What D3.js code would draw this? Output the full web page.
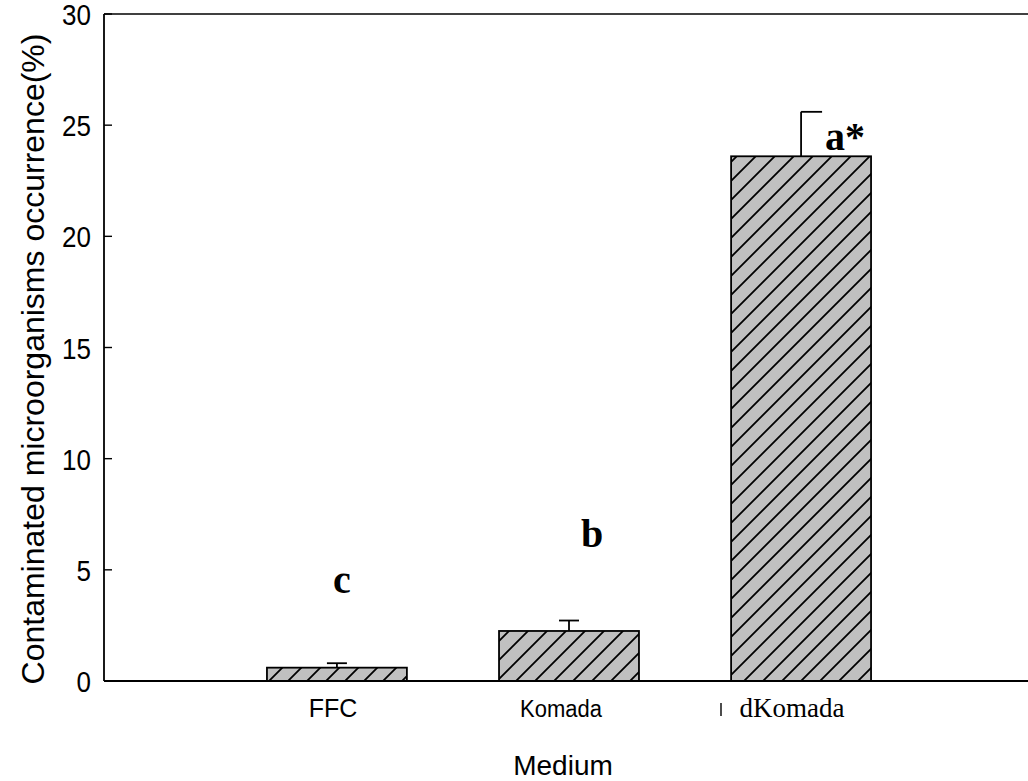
<!DOCTYPE html>
<html>
<head>
<meta charset="utf-8">
<script src="https://cdn.jsdelivr.net/npm/d3@7"></script>
<style>
  html, body { margin: 0; padding: 0; background: #fff; }
  svg { display: block; }
</style>
</head>
<body>
<svg id="chart" width="1028" height="781"></svg>
<script>
// ---- data ----
const categories = ["FFC", "Komada", "dKomada"];
const values = [0.6, 2.25, 23.6];
const errors = [0.2, 0.47, 2.0];
const letters = ["c", "b", "a*"];
const letterValues = [3.96, 6.03, 23.9];
const yTicks = [0, 5, 10, 15, 20, 25, 30];
const yTitle = "Contaminated microorganisms occurrence(%)";
const xTitle = "Medium";

// ---- layout ----
const mLeft = 104, mRight = 1028, mTop = 14, mBottom = 681;
const svg = d3.select("#chart");

const y = d3.scaleLinear().domain([0, 30]).range([mBottom, mTop]);
const x = d3.scaleBand().domain(categories).range([221, 917]).paddingInner(0.397).paddingOuter(0.198);

// hatch pattern
const defs = svg.append("defs");
const pat = defs.append("pattern")
  .attr("id", "hatch").attr("patternUnits", "userSpaceOnUse")
  .attr("width", 19).attr("height", 19);
pat.append("rect").attr("width", 19).attr("height", 19).attr("fill", "#c0c0c0");
pat.append("path").attr("d", "M-5,24 L24,-5 M-5,5 L5,-5 M14,24 L24,14")
  .attr("stroke", "#000").attr("stroke-width", 1.8);

// bars
svg.append("g").selectAll("rect").data(categories).join("rect")
  .attr("x", d => x(d))
  .attr("y", (d, i) => y(values[i]))
  .attr("width", x.bandwidth())
  .attr("height", (d, i) => y(0) - y(values[i]))
  .attr("fill", "url(#hatch)")
  .attr("stroke", "#000").attr("stroke-width", 1.8);

// error bars (upper only)
const eg = svg.append("g").attr("stroke", "#000").attr("stroke-width", 1.8).attr("fill", "none");
categories.forEach((c, i) => {
  const cx = x(c) + x.bandwidth() / 2;
  eg.append("line").attr("x1", cx).attr("x2", cx)
    .attr("y1", y(values[i])).attr("y2", y(values[i] + errors[i]));
  const capL = i === 2 ? cx : cx - 10;
  const capR = i === 2 ? cx + 21 : cx + 10;
  eg.append("line").attr("x1", capL).attr("x2", capR)
    .attr("y1", y(values[i] + errors[i])).attr("y2", y(values[i] + errors[i]));
});

// significance letters
const letterOffsets = [5, 23, 44];
svg.append("g").selectAll("text").data(letters).join("text")
  .attr("x", (d, i) => x(categories[i]) + x.bandwidth() / 2 + letterOffsets[i])
  .attr("y", (d, i) => y(letterValues[i]))
  .attr("text-anchor", "middle")
  .attr("font-family", "'Liberation Serif', 'Times New Roman', serif")
  .attr("font-weight", "bold")
  .attr("font-size", 40)
  .text(d => d);

// frame / axes
const ax = svg.append("g").attr("stroke", "#000").attr("fill", "none");
ax.append("line").attr("x1", mLeft).attr("x2", mRight).attr("y1", mTop).attr("y2", mTop).attr("stroke-width", 1.6);
ax.append("line").attr("x1", mLeft).attr("x2", mRight).attr("y1", mBottom).attr("y2", mBottom).attr("stroke-width", 2.2);
ax.append("line").attr("x1", mLeft).attr("x2", mLeft).attr("y1", mTop).attr("y2", mBottom).attr("stroke-width", 1.8);

// y ticks (inward)
svg.append("g").selectAll("line").data(yTicks).join("line")
  .attr("x1", mLeft).attr("x2", mLeft + 8)
  .attr("y1", d => y(d)).attr("y2", d => y(d))
  .attr("stroke", "#000").attr("stroke-width", 1.4);
svg.append("g").selectAll("text").data(yTicks).join("text")
  .attr("transform", d => `translate(91,${y(d) + 11}) scale(1,1.12)`)
  .attr("text-anchor", "end")
  .attr("font-family", "'Liberation Sans', Arial, sans-serif")
  .attr("font-size", 26)
  .text(d => d);

// x labels
const xLabelOffsets = [-4, -8, -9];
const xLabelSizes = [25, 22, 27];
svg.append("g").selectAll("text").data(categories).join("text")
  .attr("transform", (d, i) => `translate(${x(d) + x.bandwidth() / 2 + xLabelOffsets[i]},717) scale(1,${i === 1 ? 1.12 : 1})`)
  .attr("text-anchor", "middle")
  .attr("font-family", (d, i) => i === 2 ? "'Liberation Serif', 'Times New Roman', serif" : "'Liberation Sans', Arial, sans-serif")
  .attr("font-size", (d, i) => xLabelSizes[i])
  .text(d => d);
svg.append("line").attr("x1", 721).attr("x2", 721).attr("y1", 703).attr("y2", 716)
  .attr("stroke", "#000").attr("stroke-width", 1.4);

// titles
svg.append("text")
  .attr("x", 563).attr("y", 775)
  .attr("text-anchor", "middle")
  .attr("font-family", "'Liberation Sans', Arial, sans-serif")
  .attr("font-size", 28)
  .text(xTitle);
svg.append("text")
  .attr("transform", "translate(44,359) rotate(-90)")
  .attr("text-anchor", "middle")
  .attr("font-family", "'Liberation Sans', Arial, sans-serif")
  .attr("font-size", 32)
  .text(yTitle);
</script>
</body>
</html>
